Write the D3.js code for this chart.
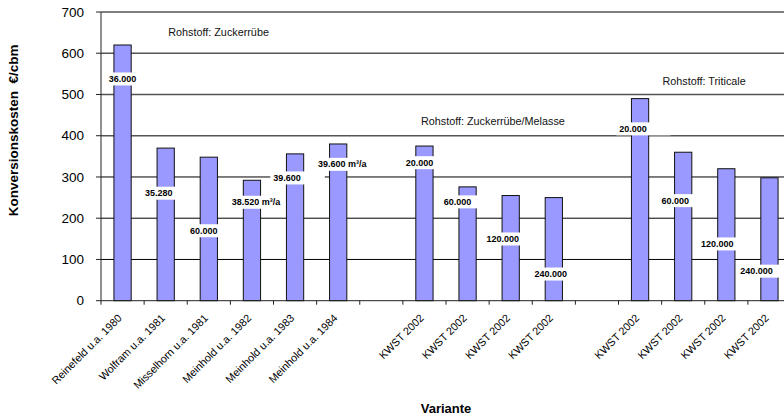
<!DOCTYPE html>
<html>
<head>
<meta charset="utf-8">
<script src="https://cdn.jsdelivr.net/npm/d3@7"></script>
<style>
  html, body { margin: 0; padding: 0; background: #fff; }
  svg { display: block; font-family: Arial, "Liberation Sans", sans-serif; }
</style>
</head>
<body>
<svg id="chart" width="784" height="416"></svg>
<script>
// Category slots; empty strings are spacer slots between the raw-material groups
const categories = [
  "Reinefeld u.a. 1980", "Wolfram u.a. 1981", "Misselhorn u.a. 1981",
  "Meinhold u.a. 1982", "Meinhold u.a. 1983", "Meinhold u.a. 1984",
  "",
  "KWST 2002", "KWST 2002", "KWST 2002", "KWST 2002",
  "",
  "KWST 2002", "KWST 2002", "KWST 2002", "KWST 2002"
];

// Conversion costs in €/cbm
const costs = [620, 370, 348, 292, 356, 380, null, 375, 276, 255, 250, null, 490, 360, 320, 298];

// Plant capacity printed on each bar
const capacities = [
  "36.000", "35.280", "60.000", "38.520 m³/a", "39.600", "39.600 m³/a", null,
  "20.000", "60.000", "120.000", "240.000", null,
  "20.000", "60.000", "120.000", "240.000"
];

const yTicks = [0, 100, 200, 300, 400, 500, 600, 700];

const groupNotes = ["Rohstoff: Zuckerrübe", "Rohstoff: Zuckerrübe/Melasse", "Rohstoff: Triticale"];

// ---- layout ----
const svg = d3.select("#chart");
const plotLeft = 101, plotRight = 791, plotTop = 12, plotBottom = 300.7;

const slots = d3.range(categories.length);
const x = d3.scaleBand().domain(slots).range([plotLeft, plotRight]).paddingInner(0.6).paddingOuter(0.3);
const step = x.step();
const y = d3.scaleLinear().domain([0, 700]).range([plotBottom, plotTop]);

// capacity label placement: level in €/cbm and horizontal nudge in px
const labelLevel = [538, 261, 170, 239, 298, 331, null, 335, 240, 150, 65, null, 417, 243, 138, 72];
const labelDx = [0, -7, -5, 4, -8, 4, 0, -5, -10, -8, -3, 0, -7, -8, -9, -13];

// group note placement: slot position and level in €/cbm
const notePos = [[1.56, 641], [7.42, 425], [13.02, 524]];

// gridlines
svg.append("g").selectAll("line").data(yTicks.slice(1)).join("line")
  .attr("x1", plotLeft).attr("x2", plotRight)
  .attr("y1", d => y(d)).attr("y2", d => y(d))
  .attr("stroke", d => d >= 400 ? "#555" : "#000").attr("stroke-width", d => d >= 400 ? 1.3 : 1);

// bars
const barData = slots.filter(i => costs[i] != null);
svg.append("g").selectAll("rect").data(barData).join("rect")
  .attr("x", i => x(i))
  .attr("y", i => y(costs[i]))
  .attr("width", x.bandwidth())
  .attr("height", i => y(0) - y(costs[i]))
  .attr("fill", "#9999FF")
  .attr("stroke", "#111").attr("stroke-width", 1);

// y axis
const yAxis = svg.append("g");
yAxis.append("line").attr("x1", plotLeft).attr("x2", plotLeft).attr("y1", plotTop).attr("y2", plotBottom)
  .attr("stroke", "#222");
yAxis.selectAll(".tk").data(yTicks).join("line").attr("class", "tk")
  .attr("x1", plotLeft - 5).attr("x2", plotLeft).attr("y1", d => y(d)).attr("y2", d => y(d))
  .attr("stroke", "#222");
yAxis.selectAll("text").data(yTicks).join("text")
  .attr("x", plotLeft - 17).attr("y", d => y(d)).attr("dy", "0.35em")
  .attr("text-anchor", "end").attr("font-size", 13.5).attr("fill", "#000")
  .text(d => d);

// x axis
const xAxis = svg.append("g");
xAxis.append("line").attr("x1", plotLeft).attr("x2", plotRight).attr("y1", plotBottom).attr("y2", plotBottom)
  .attr("stroke", "#222");
xAxis.selectAll(".tk").data(d3.range(categories.length + 1)).join("line").attr("class", "tk")
  .attr("x1", i => plotLeft + i * step).attr("x2", i => plotLeft + i * step)
  .attr("y1", plotBottom).attr("y2", plotBottom + 4)
  .attr("stroke", "#222");
xAxis.selectAll("text").data(slots.filter(i => categories[i] !== "")).join("text")
  .attr("text-anchor", "end").attr("font-size", 10.8).attr("fill", "#000")
  .attr("transform", i => `translate(${x(i) + x.bandwidth() / 2},${plotBottom + 18}) rotate(-45)`)
  .text(i => categories[i]);

// capacity labels on white boxes
const lab = svg.append("g");
barData.forEach(i => {
  const cx = x(i) + x.bandwidth() / 2 + labelDx[i];
  const g = lab.append("g");
  const t = g.append("text")
    .attr("x", cx).attr("y", y(labelLevel[i])).attr("dy", "0.35em")
    .attr("text-anchor", "middle").attr("font-size", 9).attr("font-weight", "bold")
    .attr("fill", "#000").text(capacities[i]);
  const b = t.node().getBBox();
  const next = barData.find(j => j > i);
  const limit = next != null ? x(next) - 4 : plotRight;
  const rx = b.x - 3;
  const rr = Math.max(b.x + b.width + 3, Math.min(b.x + b.width + 24, limit));
  g.insert("rect", "text")
    .attr("x", rx).attr("y", b.y - 1.5)
    .attr("width", rr - rx).attr("height", b.height + 3)
    .attr("fill", "#fff");
});

// raw-material group notes
svg.append("g").selectAll("text").data(groupNotes).join("text")
  .attr("x", (d, k) => plotLeft + notePos[k][0] * step)
  .attr("y", (d, k) => y(notePos[k][1]))
  .attr("font-size", 10.8).attr("fill", "#111")
  .text(d => d);

// axis titles
svg.append("text")
  .attr("transform", `translate(18,${(plotTop + plotBottom) / 2 - 26}) rotate(-90)`)
  .attr("text-anchor", "middle").attr("font-size", 13.5).attr("font-weight", "bold")
  .attr("xml:space", "preserve")
  .text("Konversionskosten  €/cbm");

svg.append("text")
  .attr("x", (plotLeft + plotRight) / 2).attr("y", 413)
  .attr("text-anchor", "middle").attr("font-size", 13).attr("font-weight", "bold")
  .text("Variante");
</script>
</body>
</html>
